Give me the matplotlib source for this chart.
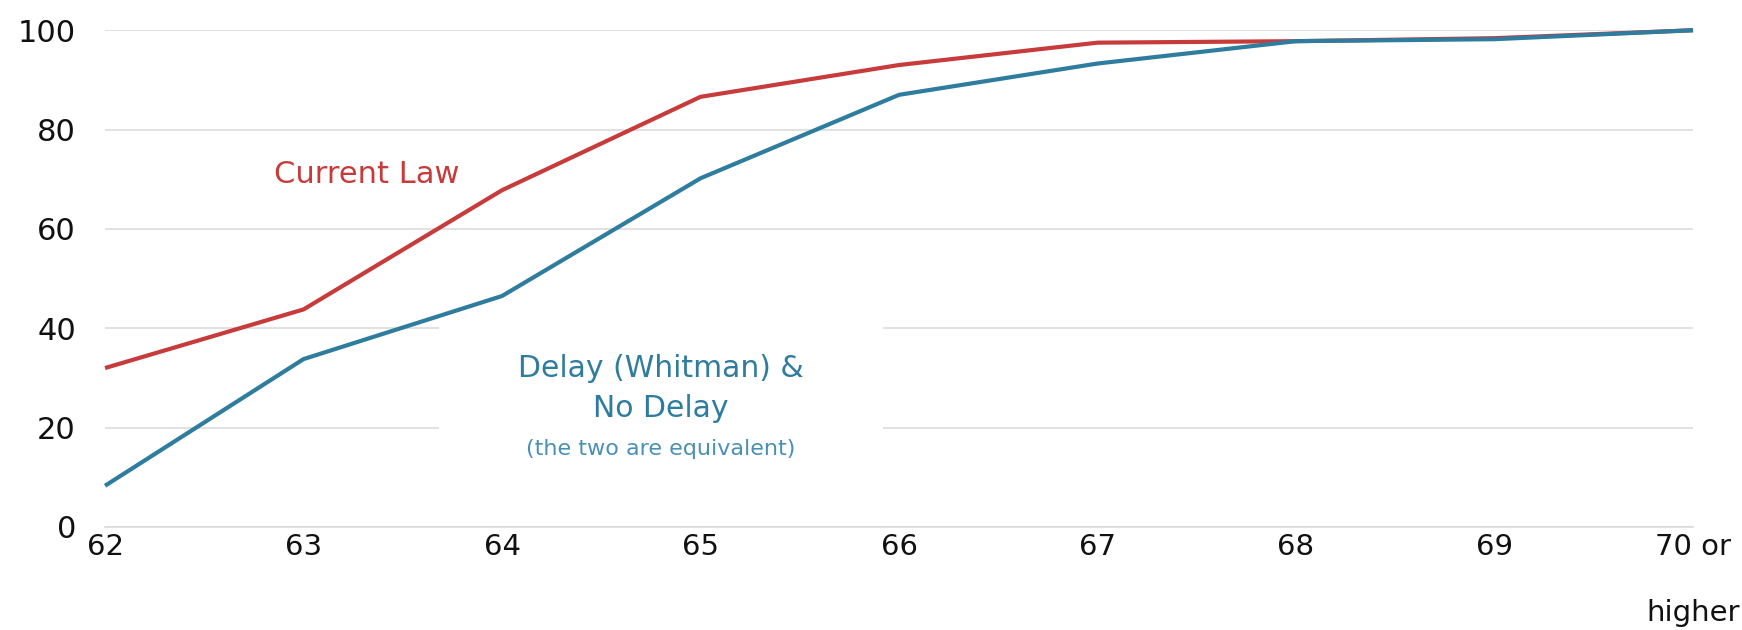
import matplotlib
matplotlib.use("Agg")
import matplotlib.pyplot as plt

# Datos
edades = [62, 63, 64, 65, 66, 67, 68, 69, 70]
etiquetas_x = ["62", "63", "64", "65", "66", "67", "68", "69", "70 or\nhigher"]
ley_actual = [32.0, 43.8, 67.8, 86.6, 93.0, 97.5, 97.8, 98.4, 100.0]
con_retraso = [8.3, 33.8, 46.5, 70.2, 87.0, 93.3, 97.8, 98.2, 100.0]
ticks_y = [0, 20, 40, 60, 80, 100]

rojo = "#C73B3B"
azul = "#2E7C9E"
azul_claro = "#4A90B4"

plt.rcParams["font.family"] = "DejaVu Sans"

fig = plt.figure(figsize=(17.42, 6.30), dpi=100)
ax = fig.add_axes([0.0603, 0.1635, 0.9116, 0.7885])

ax.plot(edades, ley_actual, color=rojo, linewidth=3, zorder=3, clip_on=False, solid_capstyle="butt")
ax.plot(edades, con_retraso, color=azul, linewidth=3, zorder=3.1, clip_on=False, solid_capstyle="butt")

ax.set_xlim(62, 70)
ax.set_ylim(0, 100)
ax.set_xticks(edades)
ax.set_xticklabels(etiquetas_x, fontsize=21, color="#111111", va="top", linespacing=2.75)
ax.set_yticks(ticks_y)
ax.set_yticklabels([str(v) for v in ticks_y], fontsize=22, color="#111111")
ax.tick_params(axis="both", length=0)
ax.tick_params(axis="y", pad=21)
ax.tick_params(axis="x", pad=4)

# Grilla horizontal
ax.set_axisbelow(True)
ax.grid(axis="y", color="#d9d9d9", linewidth=1.1)
for lado in ["top", "right", "left"]:
    ax.spines[lado].set_visible(False)
ax.spines["bottom"].set_color("#d9d9d9")
ax.spines["bottom"].set_linewidth(1.1)

# Etiquetas de las series
ax.text(63.32, 71.0, "Current Law", color=rojo, fontsize=22, ha="center", va="center", zorder=2)
ax.text(64.80, 27.9, "Delay (Whitman) &\nNo Delay", color=azul, fontsize=21.5, ha="center", va="center",
        linespacing=1.45, zorder=2, clip_on=True,
        bbox=dict(boxstyle="square,pad=2.65", facecolor="white", edgecolor="none"))
ax.text(64.80, 15.7, "(the two are equivalent)", color=azul_claro, fontsize=16, ha="center", va="center", zorder=2.2)

fig.savefig("out.png", dpi=100)
